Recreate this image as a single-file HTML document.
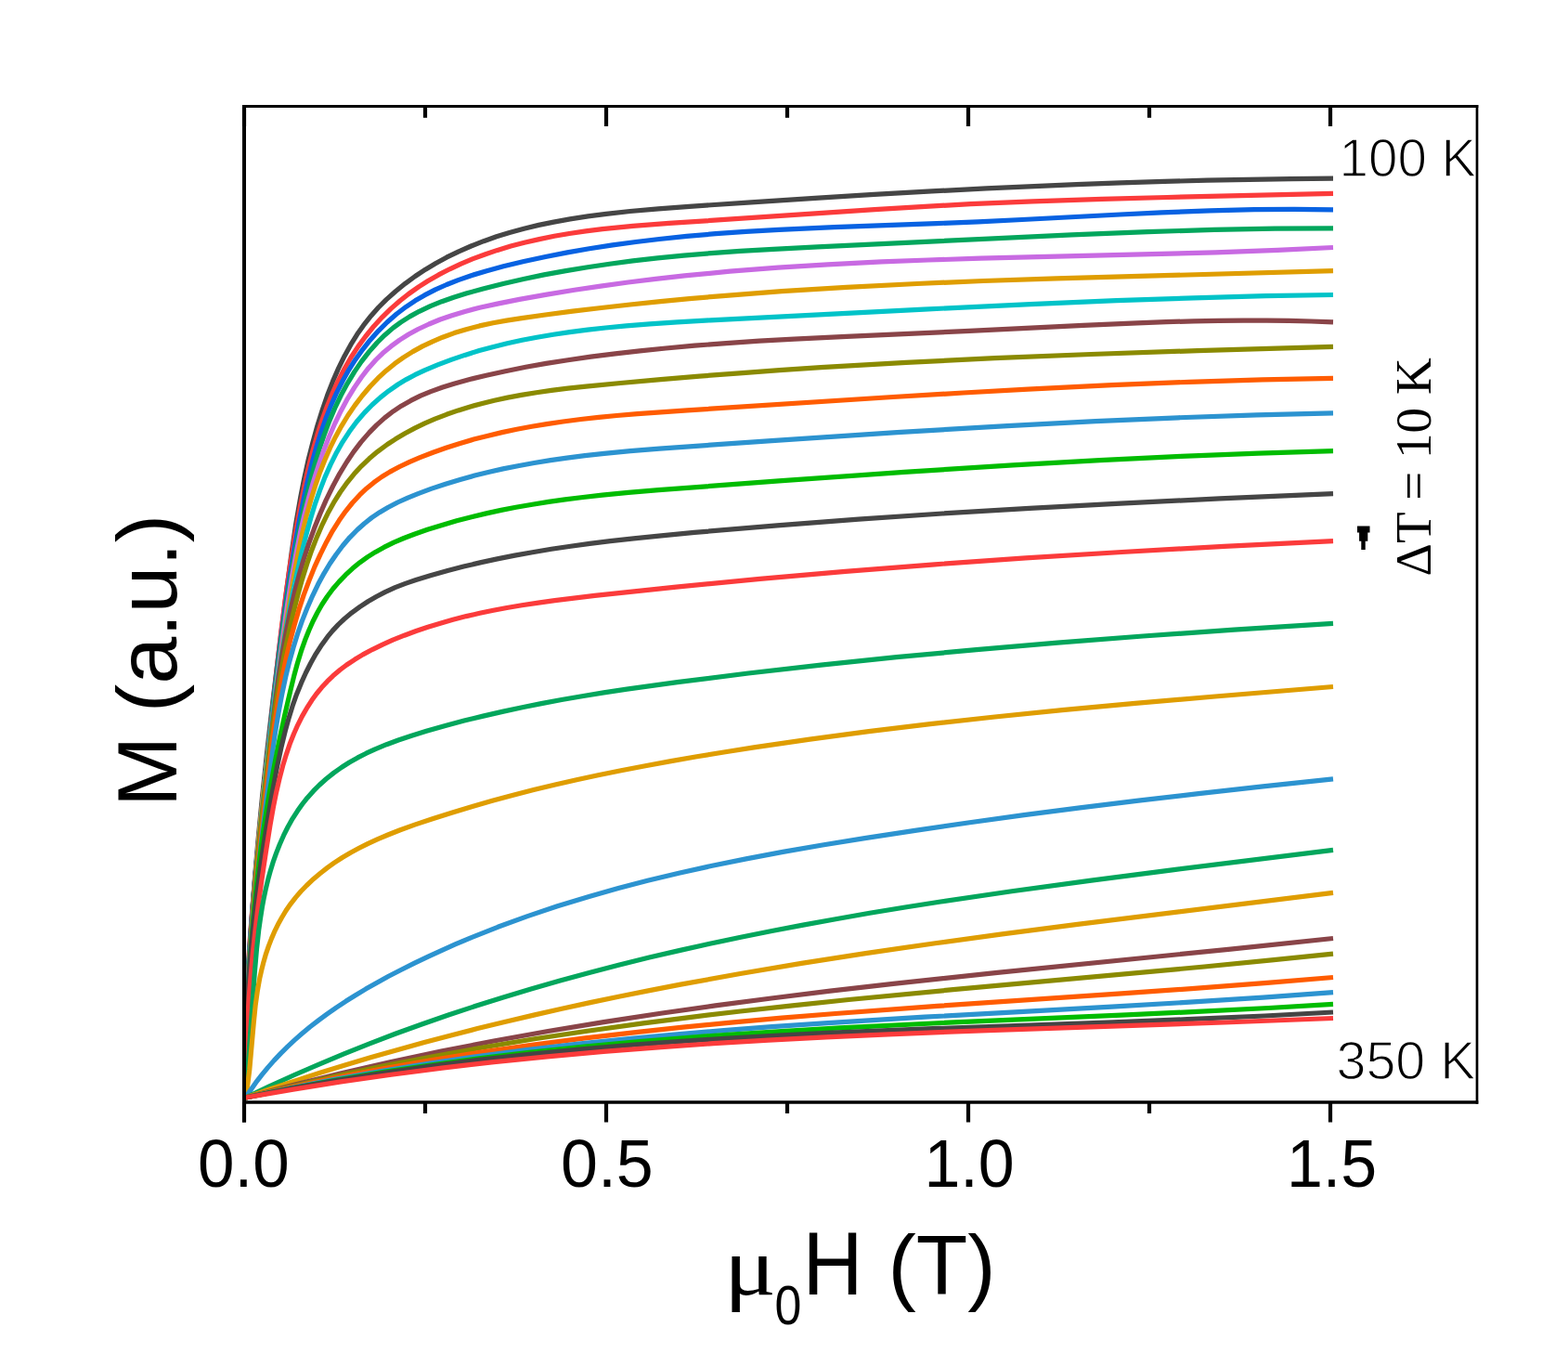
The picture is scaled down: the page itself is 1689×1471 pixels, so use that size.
<!DOCTYPE html>
<html><head><meta charset="utf-8"><title>M vs H</title>
<style>html,body{margin:0;padding:0;background:#fff;}svg{display:block;}</style>
</head><body>
<svg width="1689" height="1471" viewBox="0 0 1689 1471">
<rect width="1689" height="1471" fill="#fff"/>
<g fill="none" stroke-width="5.2" stroke-linejoin="round" stroke-linecap="butt">
<path d="M264.5 1182.0L264.6 1150.7 265.1 1117.9 266.1 1085.1 267.5 1050.9 269.4 1016.7 271.8 981.0 274.6 943.9 278.0 905.3 282.4 859.3 287.4 811.9 293.5 758.6 300.7 699.4 309.3 631.4 314.0 596.0 318.8 563.6 323.7 535.7 327.7 515.3 332.2 494.9 337.0 476.1 341.8 458.8 347.2 441.5 352.6 425.8 358.6 410.4 364.6 396.6 371.2 383.2 377.7 371.4 384.7 360.1 391.5 350.4 399.8 339.9 407.7 331.0 416.1 322.6 426.1 313.7 436.5 305.3 447.2 297.5 458.3 290.2 469.5 283.5 481.0 277.2 494.1 270.8 507.4 265.0 521.0 259.7 534.8 254.8 548.8 250.5 564.4 246.2 580.3 242.4 596.4 239.1 614.1 235.9 633.4 232.9 653.0 230.3 678.7 227.5 709.1 224.8 742.6 222.3 809.1 217.8 877.9 213.3 941.7 209.4 1003.7 205.9 1062.5 202.9 1159.6 198.6 1206.8 196.9 1254.2 195.4 1300.3 194.2 1345.2 193.3 1390.4 192.6 1436.0 192.2" stroke="#454545"/>
<path d="M264.5 1182.0L264.1 1156.7 264.1 1130.0 264.7 1101.7 265.7 1073.4 267.2 1043.6 269.2 1012.3 271.7 979.6 274.9 943.9 280.9 882.9 294.0 758.8 298.8 714.7 302.9 679.4 307.6 642.6 312.5 608.7 317.8 576.1 323.5 544.9 328.1 522.5 332.4 503.2 336.9 485.5 341.9 468.1 347.0 452.3 352.6 436.9 358.3 423.1 364.5 409.7 371.2 396.7 377.8 385.3 385.8 373.1 393.6 362.5 402.8 351.2 411.7 341.6 421.1 332.4 431.0 323.8 440.2 316.5 451.0 308.9 461.0 302.5 472.5 295.9 484.4 289.8 496.5 284.1 508.9 278.9 523.0 273.7 535.8 269.4 550.2 265.1 564.8 261.3 580.8 257.6 597.0 254.3 613.2 251.5 631.0 248.9 648.9 246.7 681.8 243.4 720.7 240.4 942.0 225.7 996.7 222.3 1045.6 219.7 1112.6 216.9 1187.2 214.4 1257.5 212.5 1436.0 208.3" stroke="#fb3b3b"/>
<path d="M264.5 1182.0L264.2 1153.8 264.5 1125.6 265.2 1095.8 266.4 1064.6 268.1 1033.3 270.3 1000.5 273.1 964.8 276.4 927.6 281.4 877.0 288.0 814.8 295.8 744.1 301.6 695.6 306.5 658.9 311.6 623.6 317.2 589.7 322.8 558.7 327.3 536.5 331.5 517.3 335.8 499.6 340.6 482.1 345.5 466.3 350.9 450.8 356.4 436.9 362.4 423.4 369.1 410.2 375.6 398.6 382.7 387.4 390.5 376.6 398.7 366.2 407.6 356.3 417.0 347.0 427.0 338.3 437.5 330.3 447.2 323.8 457.3 317.9 469.0 311.9 481.1 306.5 493.5 301.6 507.6 296.7 523.4 291.9 542.3 286.8 564.3 281.5 587.7 276.5 611.2 271.9 634.8 267.8 659.9 263.9 685.0 260.5 710.1 257.5 739.7 254.4 770.8 251.7 803.5 249.4 839.1 247.3 898.6 244.6 1008.8 240.6 1053.5 238.8 1101.1 236.5 1206.7 231.0 1251.3 228.9 1303.4 226.9 1351.0 225.7 1394.2 225.4 1436.0 225.8" stroke="#0862e2"/>
<path d="M264.5 1182.0L264.3 1153.8 264.6 1125.5 265.4 1095.8 266.6 1064.5 268.3 1033.2 270.5 1000.5 273.1 966.2 276.4 929.0 280.9 882.9 286.7 828.1 294.2 760.2 299.9 713.1 304.5 677.8 309.5 644.0 314.5 613.2 319.9 583.8 324.6 560.2 329.4 538.2 334.4 517.6 339.1 500.1 343.8 484.2 349.1 468.6 354.9 453.2 360.7 439.5 367.1 426.1 374.1 413.1 381.8 400.4 389.3 389.4 397.5 378.9 406.2 369.0 414.6 360.7 423.4 353.1 431.6 347.1 441.4 340.9 451.6 335.3 463.6 329.7 475.9 324.7 488.6 320.2 502.9 315.8 520.3 311.0 542.1 305.5 564.0 300.5 586.0 295.9 609.5 291.6 633.0 287.7 656.6 284.2 681.7 280.9 708.3 277.9 736.4 275.1 766.1 272.6 797.3 270.4 833.0 268.3 880.7 265.8 1154.5 252.9 1236.3 249.6 1307.8 247.4 1373.3 246.1 1436.0 245.8" stroke="#02a65c"/>
<path d="M264.5 1182.0L264.6 1150.8 265.1 1119.5 266.1 1086.8 267.6 1054.1 269.4 1021.3 271.7 987.1 274.4 951.5 277.6 915.8 281.7 874.3 286.3 831.3 291.6 786.9 297.7 738.1 304.6 686.5 309.6 651.2 314.5 620.4 319.3 594.2 323.4 573.9 327.7 555.1 332.5 536.4 337.4 519.2 342.8 502.2 348.7 485.2 354.7 469.8 360.7 456.0 367.3 442.4 374.5 429.1 381.7 417.4 389.5 406.0 396.9 396.4 404.9 387.5 412.3 380.3 421.2 372.9 430.5 366.1 440.2 360.0 450.3 354.5 462.1 349.0 474.2 344.0 486.7 339.7 500.8 335.4 516.7 331.3 535.8 327.1 559.5 322.4 589.1 317.1 618.8 312.3 647.0 308.1 676.6 304.0 706.3 300.4 737.4 296.9 786.3 292.2 838.2 288.2 891.6 284.8 949.5 281.9 999.9 280.0 1056.3 278.2 1240.7 273.7 1309.2 271.8 1376.3 269.3 1436.0 266.5" stroke="#c86ae2"/>
<path d="M264.5 1182.0L264.9 1145.8 265.8 1109.9 267.1 1074.1 268.8 1038.4 270.8 1002.9 273.4 965.9 276.3 930.6 279.7 893.7 283.6 855.5 288.0 817.2 292.8 778.8 298.2 738.9 304.7 694.4 311.7 649.7 317.2 616.9 322.3 590.1 326.1 572.4 330.3 554.9 334.7 539.0 339.5 523.4 344.3 509.4 349.7 495.7 355.6 482.2 361.4 470.4 367.8 458.8 374.7 447.5 382.2 436.6 390.3 426.0 399.0 415.8 407.2 407.2 415.9 399.2 425.1 391.7 434.7 384.9 444.7 378.6 455.1 372.9 465.8 367.8 476.7 363.2 489.3 358.6 502.1 354.7 516.5 350.9 531.1 347.8 545.7 345.1 562.0 342.6 585.6 339.3 616.7 335.2 647.7 331.5 678.8 328.0 711.4 324.7 742.6 321.7 775.2 318.8 842.0 313.7 911.8 309.3 987.7 305.5 1059.1 302.5 1138.1 299.9 1436.0 291.7" stroke="#df9d00"/>
<path d="M264.5 1182.0L264.4 1153.8 264.8 1125.6 265.6 1095.8 267.0 1064.5 268.7 1033.2 271.1 998.9 273.9 963.2 277.4 924.5 282.0 877.0 286.8 831.3 291.0 794.5 295.2 760.8 299.7 728.5 304.5 697.7 309.6 668.4 315.0 640.4 320.0 616.9 325.1 594.8 329.9 575.6 334.7 558.0 339.6 542.1 344.6 527.9 350.0 513.9 356.0 500.4 362.6 487.2 369.1 475.8 376.3 464.8 384.1 454.3 392.6 444.4 400.8 436.0 409.6 428.1 418.9 420.8 428.7 414.0 437.7 408.6 446.9 403.7 457.7 398.6 471.4 392.9 486.7 387.1 500.7 382.4 516.3 377.6 530.6 373.7 546.4 369.8 562.4 366.3 578.4 363.2 596.0 360.2 613.7 357.6 633.0 355.1 652.3 353.0 674.6 350.9 699.9 348.9 729.6 346.9 765.2 344.8 995.1 333.1 1109.9 327.6 1202.4 323.7 1285.9 320.8 1363.3 318.7 1436.0 317.5" stroke="#00c3c8"/>
<path d="M264.5 1182.0L264.4 1155.1 264.8 1126.7 265.5 1098.4 266.7 1070.2 268.2 1040.4 270.3 1009.3 272.7 978.1 275.6 944.0 279.7 902.5 284.5 858.1 291.3 798.8 296.6 755.8 300.4 727.7 304.3 702.7 308.5 679.2 312.9 657.3 317.2 638.5 322.0 619.8 327.0 602.7 332.5 585.7 338.6 568.8 344.7 553.5 351.3 538.4 358.6 523.5 365.7 510.3 373.5 497.5 381.0 486.4 389.0 475.9 397.7 465.9 405.8 457.6 414.5 449.9 423.7 442.8 432.2 437.2 442.4 431.4 453.0 426.2 464.0 421.6 476.8 417.0 489.8 412.9 506.0 408.5 523.8 404.2 544.4 399.7 566.4 395.3 588.3 391.4 611.7 387.7 636.5 384.1 662.8 380.8 689.2 377.8 717.2 375.0 748.2 372.2 782.3 369.6 818.0 367.2 855.3 365.1 912.0 362.3 1039.0 356.7 1166.9 350.3 1224.8 347.8 1256.0 346.7 1285.7 345.8 1312.4 345.3 1339.2 345.1 1364.5 345.1 1388.3 345.4 1412.1 346.0 1436.0 346.9" stroke="#894448"/>
<path d="M264.5 1182.0L264.5 1153.8 265.0 1125.5 265.8 1095.7 267.1 1065.9 268.8 1034.6 270.9 1003.4 273.6 969.1 276.6 934.9 280.6 894.9 285.0 853.6 289.5 815.3 293.6 783.1 297.6 755.3 301.9 728.9 306.4 704.0 311.3 680.5 316.0 659.9 320.8 640.8 325.7 623.1 330.7 607.1 335.7 592.7 341.2 578.6 347.2 564.8 353.1 552.8 359.5 541.2 366.5 530.0 374.2 519.3 381.5 510.3 389.4 501.8 397.8 493.8 406.7 486.3 417.3 478.5 426.0 472.8 436.2 466.7 446.7 461.1 457.5 455.9 468.5 451.2 481.0 446.3 493.7 441.9 506.5 437.9 519.4 434.4 532.4 431.2 546.9 428.1 561.6 425.4 577.8 422.7 594.0 420.4 611.9 418.2 631.2 416.1 668.5 412.5 711.7 408.6 753.4 405.1 796.5 401.8 839.6 398.7 884.2 395.7 976.2 390.4 1071.3 385.7 1175.2 381.5 1289.8 377.6 1436.0 373.3" stroke="#8a8a00"/>
<path d="M264.5 1182.0L264.2 1158.0 264.4 1134.0 264.9 1110.2 265.8 1084.9 267.1 1059.7 268.8 1033.1 270.9 1005.0 273.5 975.5 277.1 938.6 281.6 897.2 288.7 835.0 293.1 799.3 296.6 774.1 300.3 750.5 304.2 728.5 308.4 708.1 312.4 690.7 317.0 673.5 322.0 656.4 327.1 640.9 332.8 625.6 338.9 610.4 345.1 596.8 351.8 583.4 358.3 571.6 365.4 560.3 372.3 550.6 379.6 541.5 387.5 532.9 394.9 525.9 402.9 519.4 411.2 513.5 420.0 508.1 430.5 502.5 441.3 497.3 452.4 492.6 466.4 487.2 480.5 482.3 494.7 477.7 510.4 473.1 524.8 469.4 540.7 465.6 556.7 462.3 572.8 459.3 588.9 456.6 606.5 454.0 625.7 451.5 645.0 449.4 664.3 447.5 686.6 445.6 740.3 441.8 961.9 427.5 1037.6 423.0 1107.3 419.1 1197.8 414.7 1281.0 411.3 1359.9 408.9 1436.0 407.4" stroke="#ff5c00"/>
<path d="M264.5 1182.0L264.2 1159.5 264.2 1137.0 264.7 1113.2 265.5 1089.4 266.8 1064.1 268.5 1039.0 270.5 1012.4 272.9 985.8 276.5 950.3 280.8 912.0 287.5 857.2 293.1 812.7 296.5 789.0 300.1 766.9 303.7 747.8 307.7 728.9 311.6 713.0 316.0 697.2 320.4 683.0 325.3 668.9 330.8 655.0 336.8 641.3 342.7 629.1 349.1 617.3 355.3 607.0 362.0 597.2 369.1 587.8 376.7 578.8 384.9 570.5 392.5 563.7 400.5 557.4 409.0 551.7 417.8 546.5 428.3 541.0 439.2 536.1 450.3 531.6 464.3 526.4 479.9 521.2 495.6 516.5 511.4 512.1 525.9 508.5 541.8 504.9 557.8 501.7 575.4 498.5 593.0 495.6 610.7 493.1 630.0 490.7 650.8 488.4 679.0 485.7 710.4 483.1 831.1 474.6 966.3 465.7 1085.0 458.6 1179.9 453.7 1269.0 449.8 1353.9 446.9 1436.0 444.8" stroke="#2c93d0"/>
<path d="M264.5 1182.0L264.7 1152.3 265.2 1122.5 266.2 1092.8 267.5 1064.5 269.1 1036.2 271.2 1008.0 273.7 979.8 276.4 953.1 279.5 926.6 283.0 900.1 287.0 873.7 291.1 848.9 295.6 824.2 300.7 798.1 306.3 771.8 312.8 743.8 316.8 727.5 320.4 714.3 324.4 701.2 328.4 689.8 332.8 678.7 337.0 669.2 341.7 660.0 346.8 651.0 352.4 642.5 358.5 634.3 365.1 626.6 372.2 619.2 379.6 612.3 387.5 605.8 395.8 599.9 404.5 594.4 413.5 589.4 424.2 584.2 435.1 579.5 446.3 575.2 460.5 570.3 476.2 565.4 492.0 560.8 507.8 556.7 523.8 552.9 539.8 549.4 555.8 546.3 573.4 543.2 591.0 540.4 608.7 537.9 627.9 535.5 648.7 533.2 676.9 530.4 709.6 527.6 839.0 517.9 974.0 508.4 1091.2 500.9 1184.6 495.6 1272.2 491.4 1355.5 488.1 1436.0 485.7" stroke="#00bc00"/>
<path d="M264.5 1182.0L264.3 1158.0 264.5 1134.0 265.1 1110.2 266.1 1086.4 267.4 1062.7 269.2 1037.6 271.2 1013.9 273.7 988.9 276.8 962.4 280.2 935.9 284.3 907.9 288.8 879.9 293.9 850.4 298.6 825.3 303.0 804.7 307.2 787.3 311.2 772.9 315.1 760.2 319.5 747.7 324.5 735.4 329.3 724.7 334.6 714.3 340.3 704.1 346.7 694.2 352.7 685.9 358.3 679.1 364.4 672.6 370.9 666.5 378.9 659.8 387.4 653.6 396.3 647.8 405.4 642.5 414.7 637.6 425.6 632.7 436.7 628.4 448.0 624.5 463.6 619.7 482.2 614.5 499.4 610.1 518.2 605.6 535.6 601.9 554.5 598.1 573.5 594.7 594.0 591.3 614.6 588.2 635.3 585.4 657.4 582.7 682.6 579.8 712.3 576.8 748.0 573.4 837.1 565.8 924.8 559.1 1015.3 553.0 1108.9 547.3 1206.9 542.1 1313.9 536.9 1436.0 531.6" stroke="#454545"/>
<path d="M264.5 1182.0L264.6 1160.8 265.1 1138.3 265.8 1117.5 266.9 1095.2 268.3 1073.1 270.1 1051.1 272.2 1027.7 274.7 1004.3 278.0 976.4 281.8 948.5 286.2 918.9 290.9 889.1 294.3 869.7 297.6 853.3 301.0 838.6 304.8 824.0 308.3 812.6 312.1 801.3 316.5 790.3 320.7 780.8 325.3 771.6 330.4 762.7 335.9 754.1 341.0 747.0 346.5 740.3 352.4 733.9 358.7 727.8 366.4 721.3 373.4 716.0 382.0 710.3 390.9 704.9 401.4 699.3 412.1 694.1 423.1 689.2 435.6 684.2 448.2 679.5 460.9 675.2 475.1 670.9 487.9 667.3 502.3 663.6 516.8 660.3 531.4 657.3 546.0 654.5 562.2 651.8 579.9 649.1 597.6 646.6 640.7 641.4 728.3 632.1 818.7 623.3 910.6 615.3 1006.9 607.8 1104.7 600.9 1208.5 594.5 1318.4 588.4 1436.0 582.6" stroke="#fb3b3b"/>
<path d="M264.5 1182.0L267.3 1146.5 274.3 1047.3 276.5 1021.8 278.8 1000.8 280.5 988.8 282.4 976.9 284.3 966.6 286.5 956.3 289.0 946.0 291.4 937.4 294.5 927.3 297.5 918.9 301.3 909.2 305.5 899.7 310.1 890.5 315.1 881.6 320.6 873.1 325.6 866.0 331.0 859.2 337.7 851.7 343.9 845.5 351.4 838.8 359.4 832.4 367.7 826.5 376.3 821.0 385.3 815.9 394.5 811.2 403.9 806.8 416.4 801.7 429.1 797.0 443.4 792.2 459.3 787.3 479.7 781.5 500.0 776.1 520.4 771.1 542.2 766.1 562.6 761.7 583.1 757.6 605.0 753.5 626.9 749.7 650.3 745.9 675.2 742.1 729.5 734.6 806.1 725.0 884.3 716.1 965.7 707.7 1051.7 699.6 1139.2 692.1 1231.3 685.0 1329.3 678.1 1436.0 671.3" stroke="#02a65c"/>
<path d="M264.5 1182.0L266.8 1167.7 268.8 1151.6 273.3 1100.9 275.1 1082.9 277.2 1067.9 279.8 1053.1 281.8 1044.4 284.0 1035.7 286.5 1027.1 289.4 1018.6 292.6 1010.4 296.1 1002.3 300.0 994.4 303.6 988.0 308.1 980.5 313.1 973.3 318.5 966.4 324.2 959.8 330.3 953.5 337.8 946.4 344.6 940.7 352.7 934.4 360.0 929.2 368.7 923.5 377.6 918.2 386.8 913.3 396.1 908.6 406.9 903.6 417.9 899.0 430.5 894.0 447.4 887.9 465.9 881.7 487.3 874.9 508.8 868.4 530.3 862.3 551.8 856.5 574.9 850.6 598.0 845.0 621.1 839.8 644.3 834.8 669.0 829.8 695.1 824.7 722.8 819.6 750.6 814.8 781.3 809.7 812.1 804.9 872.3 796.1 935.7 787.6 1002.1 779.6 1071.6 772.0 1144.2 764.7 1222.8 757.4 1308.8 750.0 1436.0 739.5" stroke="#df9d00"/>
<path d="M264.5 1182.0L269.5 1174.5 275.5 1165.9 281.9 1157.6 288.5 1149.6 295.3 1141.9 302.4 1134.4 309.7 1127.1 317.2 1120.1 325.0 1113.3 334.0 1105.8 343.3 1098.6 352.8 1091.6 362.5 1084.8 372.4 1078.3 382.5 1072.0 393.9 1065.1 405.6 1058.5 418.6 1051.3 431.8 1044.5 446.5 1037.2 461.2 1030.1 476.0 1023.3 490.9 1016.7 505.9 1010.4 536.2 998.3 568.2 986.6 600.5 975.8 634.5 965.4 666.0 956.5 697.6 948.3 732.3 940.0 767.2 932.3 803.7 924.9 843.3 917.4 885.9 910.0 931.5 902.6 987.3 894.1 1044.5 885.8 1103.1 877.7 1163.2 869.9 1226.3 862.1 1291.0 854.6 1360.4 846.9 1436.0 838.8" stroke="#2c93d0"/>
<path d="M264.5 1182.0L290.1 1169.9 317.2 1157.5 343.1 1146.3 370.5 1134.9 398.1 1123.9 425.8 1113.3 453.6 1103.2 483.0 1093.0 512.5 1083.3 542.2 1073.9 572.0 1065.0 603.3 1056.0 634.7 1047.4 666.3 1039.3 699.4 1031.1 732.6 1023.4 764.5 1016.3 797.9 1009.2 831.5 1002.5 865.0 996.1 900.2 989.7 936.8 983.3 975.0 977.0 1013.3 971.0 1089.9 959.7 1175.5 948.1 1262.5 936.9 1436.0 915.4" stroke="#02a65c"/>
<path d="M264.5 1182.0L291.1 1172.8 317.9 1163.9 344.7 1155.3 371.6 1147.0 400.0 1138.6 428.5 1130.4 457.0 1122.5 485.7 1115.0 514.4 1107.6 544.6 1100.2 574.9 1093.1 605.2 1086.2 635.7 1079.6 667.6 1073.0 699.6 1066.6 733.1 1060.1 797.4 1048.5 863.3 1037.4 932.4 1026.6 1007.4 1015.7 1079.6 1005.9 1160.7 995.4 1436.0 961.4" stroke="#df9d00"/>
<path d="M264.5 1182.0L314.7 1168.7 366.6 1155.9 420.1 1143.7 475.2 1132.1 531.9 1121.0 590.3 1110.5 650.3 1100.6 713.3 1091.0 770.6 1082.9 830.9 1075.0 894.3 1067.2 962.2 1059.4 1074.4 1047.4 1325.5 1022.1 1436.0 1010.5" stroke="#894448"/>
<path d="M264.5 1182.0L313.6 1169.9 362.8 1158.6 413.6 1147.9 466.0 1137.7 520.0 1128.0 575.6 1118.8 632.7 1110.2 693.0 1101.9 744.5 1095.3 797.6 1089.0 853.7 1082.8 914.2 1076.5 1026.6 1065.7 1297.3 1041.0 1369.7 1033.9 1436.0 1027.1" stroke="#8a8a00"/>
<path d="M264.5 1182.0L312.3 1171.0 361.7 1160.6 412.7 1150.8 463.8 1141.8 516.6 1133.4 570.8 1125.6 628.2 1118.2 687.1 1111.3 735.8 1106.1 787.5 1101.1 842.2 1096.2 899.9 1091.5 1009.6 1083.4 1208.2 1069.9 1286.7 1064.4 1365.1 1058.4 1436.0 1052.5" stroke="#ff5c00"/>
<path d="M264.5 1182.0L312.5 1171.7 360.6 1162.3 410.3 1153.5 461.5 1145.2 512.8 1137.8 567.2 1130.7 623.2 1124.2 682.2 1118.2 729.4 1113.8 779.7 1109.6 831.5 1105.7 887.8 1101.8 996.0 1095.2 1197.7 1084.1 1277.7 1079.4 1360.6 1074.1 1436.0 1068.6" stroke="#2c93d0"/>
<path d="M264.5 1182.0L312.6 1172.2 362.3 1163.0 413.5 1154.4 464.9 1146.7 517.8 1139.6 572.3 1133.1 629.8 1127.0 688.9 1121.6 739.1 1117.5 790.9 1113.8 845.7 1110.3 905.1 1106.9 1014.8 1101.5 1213.7 1092.9 1289.4 1089.4 1366.4 1085.5 1436.0 1081.4" stroke="#00bc00"/>
<path d="M264.5 1182.0L312.6 1172.4 360.8 1163.8 410.6 1155.7 462.0 1148.3 513.4 1141.7 567.9 1135.6 624.0 1130.1 683.0 1125.1 730.4 1121.6 780.7 1118.3 834.0 1115.3 890.4 1112.4 998.7 1107.9 1199.0 1100.8 1279.1 1097.7 1362.0 1094.0 1436.0 1090.0" stroke="#454545"/>
<path d="M264.5 1182.0L315.7 1173.1 367.1 1164.9 421.4 1157.2 475.9 1150.2 531.9 1143.7 589.4 1137.9 650.0 1132.4 712.1 1127.6 768.4 1123.7 827.7 1120.1 889.9 1116.9 956.7 1113.8 1063.6 1109.6 1318.9 1101.0 1436.0 1096.5" stroke="#fb3b3b"/>
</g>
<g fill="#000">
<text x="213.0" y="1277.5" font-family="'Liberation Sans', Arial, sans-serif" font-size="72.50" textLength="98.75" lengthAdjust="spacingAndGlyphs">0.0</text>
<text x="604.0" y="1277.5" font-family="'Liberation Sans', Arial, sans-serif" font-size="72.50" textLength="99.80" lengthAdjust="spacingAndGlyphs">0.5</text>
<text x="995.5" y="1277.5" font-family="'Liberation Sans', Arial, sans-serif" font-size="72.50" textLength="97.15" lengthAdjust="spacingAndGlyphs">1.0</text>
<text x="1386.0" y="1277.5" font-family="'Liberation Sans', Arial, sans-serif" font-size="72.50" textLength="97.15" lengthAdjust="spacingAndGlyphs">1.5</text>
<text x="1442.5" y="190.0" font-family="'Liberation Sans', Arial, sans-serif" font-size="57.13" textLength="147.87" lengthAdjust="spacingAndGlyphs" stroke="#fff" stroke-width="1.4" stroke-linejoin="round">100 K</text>
<text x="1439.5" y="1162.0" font-family="'Liberation Sans', Arial, sans-serif" font-size="57.88" textLength="150.05" lengthAdjust="spacingAndGlyphs" stroke="#fff" stroke-width="1.4" stroke-linejoin="round">350 K</text>
<text transform="translate(189.5,869.0) rotate(-90)" font-family="'Liberation Sans', Arial, sans-serif" font-size="91.65" textLength="315.28" lengthAdjust="spacingAndGlyphs">M (a.u.)</text>
<text transform="translate(1540.5,620.5) rotate(-90)" font-family="'Liberation Serif', 'Times New Roman', serif" font-size="55.45" textLength="235.14" lengthAdjust="spacingAndGlyphs">ΔT = 10 K</text>
<text x="780.0" y="1393.5" font-family="'Liberation Serif', 'Times New Roman', serif" font-size="88.52" textLength="55.99" lengthAdjust="spacingAndGlyphs">μ</text>
<text x="834.5" y="1425.5" font-family="'Liberation Sans', Arial, sans-serif" font-size="58.55" textLength="28.84" lengthAdjust="spacingAndGlyphs">0</text>
<text x="864.5" y="1393.5" font-family="'Liberation Sans', Arial, sans-serif" font-size="96.59" textLength="65.06" lengthAdjust="spacingAndGlyphs">H</text>
<text x="956.5" y="1393.5" font-family="'Liberation Sans', Arial, sans-serif" font-size="91.65" textLength="116.05" lengthAdjust="spacingAndGlyphs">(T)</text>
</g>
<path d="M1462 566.6H1475.5V573.5H1473.3V582.7H1470.7V591.9H1466.3V582.7H1464.1V573.5H1462Z" fill="#000"/>
<g stroke="#000" fill="none">
<line x1="261" y1="114.5" x2="1592.3" y2="114.5" stroke-width="2.8"/>
<line x1="261" y1="1187" x2="1592.3" y2="1187" stroke-width="3.6"/>
<line x1="263" y1="113.1" x2="263" y2="1208.5" stroke-width="4"/>
<line x1="1591" y1="113.1" x2="1591" y2="1188.8" stroke-width="2.7"/>
</g>
<g stroke="#000" stroke-width="4.2"><line x1="263.0" y1="1187" x2="263.0" y2="1208.5"/><line x1="263.0" y1="114.5" x2="263.0" y2="136"/><line x1="653.0" y1="1187" x2="653.0" y2="1208.5"/><line x1="653.0" y1="114.5" x2="653.0" y2="136"/><line x1="1043.0" y1="1187" x2="1043.0" y2="1208.5"/><line x1="1043.0" y1="114.5" x2="1043.0" y2="136"/><line x1="1433.0" y1="1187" x2="1433.0" y2="1208.5"/><line x1="1433.0" y1="114.5" x2="1433.0" y2="136"/><line x1="458.0" y1="1187" x2="458.0" y2="1199"/><line x1="458.0" y1="114.5" x2="458.0" y2="126.8"/><line x1="848.0" y1="1187" x2="848.0" y2="1199"/><line x1="848.0" y1="114.5" x2="848.0" y2="126.8"/><line x1="1238.0" y1="1187" x2="1238.0" y2="1199"/><line x1="1238.0" y1="114.5" x2="1238.0" y2="126.8"/></g>
</svg>
</body></html>
